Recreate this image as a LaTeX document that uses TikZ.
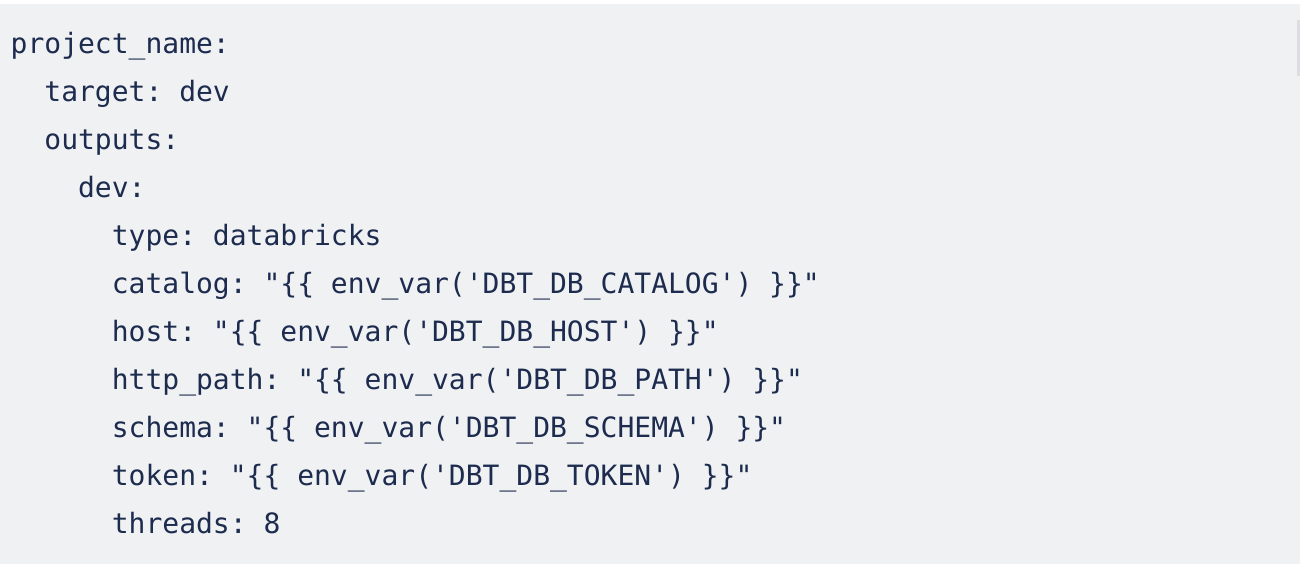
\documentclass[tikz,border=0pt]{standalone}
\usepackage{fontspec}
\newfontfamily\codefont{DejaVu Sans Mono}
\definecolor{codebg}{HTML}{F0F1F3}
\definecolor{codefg}{HTML}{1C2B4E}
\definecolor{scrollc}{HTML}{DCDDE1}
\frenchspacing
\begin{document}
\begin{tikzpicture}[x=1pt,y=-1pt,
  codeline/.style={anchor=base west,inner sep=0pt,text=codefg,font=\codefont\frenchspacing\fontsize{28}{48}\selectfont}]
\useasboundingbox (0,0) rectangle (1300,568);
\fill[white] (0,0) rectangle (1300,568);
\fill[codebg] (0,4) rectangle (1300,564);
\fill[scrollc] (1297,20) rectangle (1299.5,76);
\def\cw{16.86}
\node[codeline] (l1) at (10.5,53) {project\_name:};
\node[codeline] (l2) at (10.5+2*\cw,101) {target: dev};
\node[codeline] (l3) at (10.5+2*\cw,149) {outputs:};
\node[codeline] (l4) at (10.5+4*\cw,197) {dev:};
\node[codeline] (l5) at (10.5+6*\cw,245) {type: databricks};
\node[codeline] (l6) at (10.5+6*\cw,293) {catalog: "\{\{ env\_var('DBT\_DB\_CATALOG') \}\}"};
\node[codeline] (l7) at (10.5+6*\cw,341) {host: "\{\{ env\_var('DBT\_DB\_HOST') \}\}"};
\node[codeline] (l8) at (10.5+6*\cw,389) {http\_path: "\{\{ env\_var('DBT\_DB\_PATH') \}\}"};
\node[codeline] (l9) at (10.5+6*\cw,437) {schema: "\{\{ env\_var('DBT\_DB\_SCHEMA') \}\}"};
\node[codeline] (l10) at (10.5+6*\cw,485) {token: "\{\{ env\_var('DBT\_DB\_TOKEN') \}\}"};
\node[codeline] (l11) at (10.5+6*\cw,533) {threads: 8};
\end{tikzpicture}
\end{document}
